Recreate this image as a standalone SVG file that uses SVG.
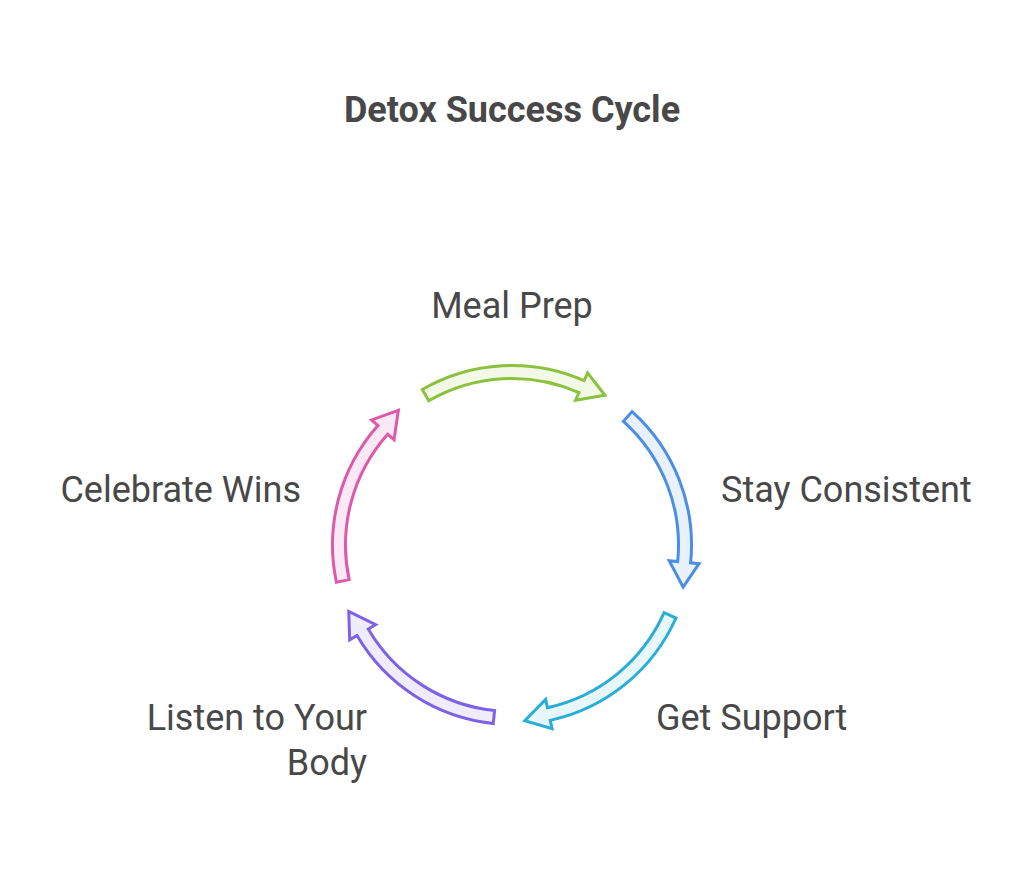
<svg xmlns="http://www.w3.org/2000/svg" width="1024" height="872" viewBox="0 0 1024 872">
  <style>
    .title { font-family: Roboto, "Liberation Sans", sans-serif; font-weight: 700; font-size: 36px; fill: #484848; }
    .label { font-family: Roboto, "Liberation Sans", sans-serif; font-weight: 400; font-size: 36px; fill: #484848; }
    .arrow { stroke-width: 3; stroke-linejoin: miter; }
  </style>
  <defs>
    <path id="arc" d="M422.25,389.55 A179.5,179.5 0 0 1 584.14,380.63 L587.56,372.85 L605.0,395.3 L575.50,400.32 L578.92,392.54 A166.5,166.5 0 0 0 428.75,400.81 Z"/>
  </defs>
  <rect width="1024" height="872" fill="#ffffff"/>
  <text class="title" x="512" y="122" text-anchor="middle">Detox Success Cycle</text>
  <g id="connectors">
    <g id="arrow-meal-prep"><use href="#arc" class="arrow" fill="#f2f9e6" stroke="#8cc13f"/></g>
    <g id="arrow-stay-consistent"><use href="#arc" class="arrow" fill="#e9f1fd" stroke="#4a8ee6" transform="rotate(72 512 545)"/></g>
    <g id="arrow-get-support"><use href="#arc" class="arrow" fill="#e7f7fc" stroke="#2aaed8" transform="rotate(144 512 545)"/></g>
    <g id="arrow-listen"><use href="#arc" class="arrow" fill="#efecfd" stroke="#7d62e6" transform="rotate(216 512 545)"/></g>
    <g id="arrow-celebrate"><use href="#arc" class="arrow" fill="#fde9f5" stroke="#dd5aab" transform="rotate(288 512 545)"/></g>
  </g>
  <g id="node-meal-prep"><text class="label" x="512" y="318" text-anchor="middle">Meal Prep</text></g>
  <g id="node-stay-consistent"><text class="label" x="721" y="502">Stay Consistent</text></g>
  <g id="node-get-support"><text class="label" x="656" y="730">Get Support</text></g>
  <g id="node-listen"><text class="label" x="367" y="730" text-anchor="end">Listen to Your</text><text class="label" x="367" y="775" text-anchor="end">Body</text></g>
  <g id="node-celebrate"><text class="label" x="301" y="502" text-anchor="end">Celebrate Wins</text></g>
</svg>
